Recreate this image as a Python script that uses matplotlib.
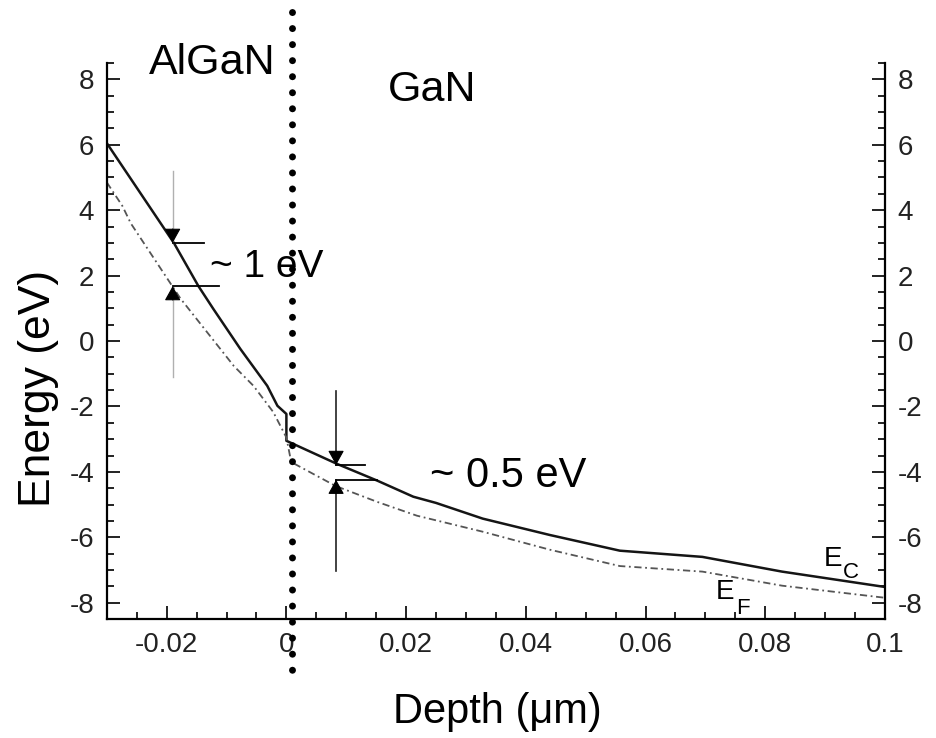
import matplotlib
matplotlib.use("Agg")
import matplotlib.pyplot as plt

plt.rcParams['font.family'] = ['Liberation Sans', 'DejaVu Sans']
plt.rcParams['axes.unicode_minus'] = False

# conduction band edge (solid), step at the AlGaN/GaN interface
ec_x = [-0.030, -0.0188, -0.0147, -0.0122, -0.0077, -0.0032, -0.0015, 0.0, 0.0,
        0.0085, 0.0152, 0.0212, 0.025, 0.0328, 0.044, 0.0557, 0.0695, 0.0828, 0.100]
ec_y = [6.05, 3.0, 1.68, 0.98, -0.24, -1.37, -1.98, -2.23, -3.05,
        -3.76, -4.27, -4.76, -4.95, -5.43, -5.93, -6.41, -6.6, -7.05, -7.52]

# fermi level (dash-dot)
ef_x = [-0.030, -0.0274, -0.026, -0.0177, -0.0088, -0.0055, -0.0022, 0.0, 0.0008,
        0.0082, 0.0152, 0.0218, 0.0328, 0.044, 0.0557, 0.0695, 0.0828, 0.100]
ef_y = [4.85, 4.13, 3.6, 1.3, -0.76, -1.37, -2.17, -2.95, -3.7,
        -4.43, -4.92, -5.34, -5.83, -6.38, -6.88, -7.05, -7.48, -7.85]

# interface marker
iface_x = 0.001
iface_span = [10.05, -10.1]

# "~ 1 eV" marker: arrow x, tails, heads, end of the horizontal bars
gap1_x = -0.019
gap1_tails = [5.2, -1.1]
gap1_heads = [3.0, 1.68]
gap1_bar_ends = [-0.0138, -0.0113]

# "~ 0.5 eV" marker
gap2_x = 0.0083
gap2_tails = [-1.53, -7.02]
gap2_heads = [-3.79, -4.24]
gap2_bar_ends = [0.0132, 0.0152]

xticks = [-0.02, 0, 0.02, 0.04, 0.06, 0.08, 0.1]
xtick_labels = ['-0.02', '0', '0.02', '0.04', '0.06', '0.08', '0.1']
yticks = [-8, -6, -4, -2, 0, 2, 4, 6, 8]
ytick_labels = ['-8', '-6', '-4', '-2', '0', '2', '4', '6', '8']

fig = plt.figure(figsize=(9.37, 7.38), dpi=100)
ax = fig.add_axes([0.114, 0.1612, 0.8305, 0.7534])

ax.plot(ec_x, ec_y, color='#151515', lw=1.8)
ax.plot(ef_x, ef_y, color='#555555', lw=1.3, linestyle=(0, (4, 2, 1, 2)))

ax.plot([iface_x, iface_x], iface_span, color='black', lw=5,
        linestyle=(0, (0.01, 2.3)), dash_capstyle='round', clip_on=False, zorder=5)


def gap_marker(x, tails, heads, ends, line_color, lw):
    for t, h, e in zip(tails, heads, ends):
        ax.plot([x, x], [t, h], color=line_color, lw=lw)
        off = 10 if t > h else -10
        ax.annotate('', xy=(x, h), xytext=(0, off), textcoords='offset points',
                    arrowprops=dict(arrowstyle='-|>,head_length=0.45,head_width=0.25',
                                    color='black', lw=0.8, shrinkA=0, shrinkB=0,
                                    mutation_scale=20))
        ax.plot([x, e], [h, h], color='black', lw=1.3)


gap_marker(gap1_x, gap1_tails, gap1_heads, gap1_bar_ends, '#b0b0b0', 1.0)
gap_marker(gap2_x, gap2_tails, gap2_heads, gap2_bar_ends, '#222222', 1.2)

ax.text(-0.0127, 1.95, '~ 1 eV', fontsize=28)
ax.text(0.024, -4.46, '~ 0.5 eV', fontsize=30)
ax.text(-0.023, 8.15, 'AlGaN', fontsize=31)
ax.text(0.0170, 7.33, 'GaN', fontsize=31)

ax.text(0.0898, -6.87, 'E', fontsize=20)
ax.annotate('C', xy=(0.0898, -6.87), xytext=(13.7, -8.6), textcoords='offset points', fontsize=16)
ax.text(0.0718, -7.88, 'E', fontsize=20)
ax.annotate('F', xy=(0.0718, -7.88), xytext=(14.4, -10.8), textcoords='offset points', fontsize=16)

ax.set_xlim(-0.03, 0.1)
ax.set_ylim(-8.5, 8.5)
ax.set_xticks(xticks)
ax.set_xticklabels(xtick_labels)
ax.set_yticks(yticks)
ax.set_yticklabels(ytick_labels)
ax.set_xticks([i * 0.005 - 0.03 for i in range(27)], minor=True)
ax.set_yticks([i * 0.5 - 8.5 for i in range(35)], minor=True)

ax.spines['top'].set_visible(False)
for s in ['left', 'right', 'bottom']:
    ax.spines[s].set_linewidth(1.6)
ax.tick_params(which='both', direction='in', top=False, right=True, labelright=True,
               width=1.4, labelsize=20, colors='#222222')
ax.tick_params(which='major', length=9.5, pad=9)
ax.tick_params(which='minor', length=5)

fig.text(497 / 937, 1 - 723 / 738, 'Depth (\u03bcm)', fontsize=30, ha='center', va='baseline')
fig.text(50 / 937, 1 - 388 / 738, 'Energy (eV)', fontsize=32, rotation=90,
         rotation_mode='anchor', ha='center', va='baseline')

fig.savefig('out.png', dpi=100, facecolor='white')
